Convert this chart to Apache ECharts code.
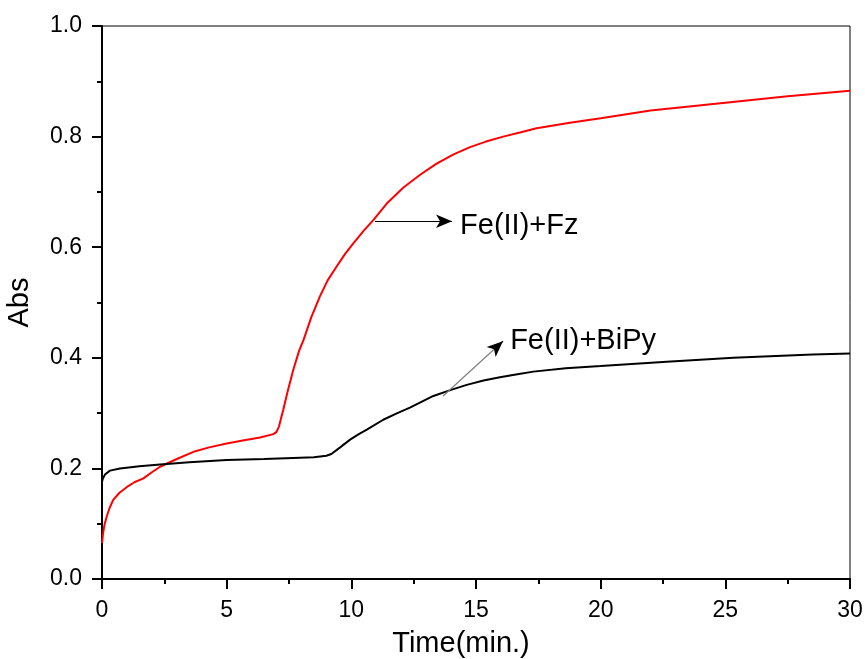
<!DOCTYPE html>
<html>
<head>
<meta charset="utf-8">
<script src="https://cdn.jsdelivr.net/npm/echarts@6/dist/echarts.min.js"></script>
<style>
    html, body { margin: 0; padding: 0; background: #fff; }
    #main { width: 865px; height: 659px; }
</style>
</head>
<body>
<div id="main"></div>
<script>
// Fe(II)+Fz curve (red)
var timeFz = [0, 0.05, 0.1, 0.19, 0.3, 0.45, 0.7, 0.99, 1.3, 1.66, 2.0, 2.33, 3.0, 3.67, 4.3, 5.0, 5.7, 6.34, 6.87, 7.0, 7.1, 7.27, 7.45, 7.67, 7.9, 8.08, 8.4, 8.74, 9.05, 9.41, 9.75, 10.08, 10.5, 10.88, 11.42, 12.09, 12.76, 13.42, 14.1, 14.76, 15.4, 16.09, 16.8, 17.43, 18.77, 20.0, 22.0, 25.0, 27.5, 30.0];
var absFz = [0.065, 0.085, 0.098, 0.113, 0.128, 0.143, 0.156, 0.166, 0.175, 0.182, 0.193, 0.203, 0.217, 0.230, 0.238, 0.245, 0.251, 0.256, 0.262, 0.266, 0.276, 0.306, 0.340, 0.378, 0.412, 0.432, 0.474, 0.511, 0.540, 0.565, 0.588, 0.607, 0.630, 0.649, 0.679, 0.708, 0.731, 0.751, 0.768, 0.781, 0.791, 0.800, 0.808, 0.815, 0.825, 0.833, 0.847, 0.861, 0.873, 0.883];

// Fe(II)+BiPy curve (black)
var timeBp = [0, 0.03, 0.12, 0.32, 0.72, 1.5, 2.33, 3.5, 5.0, 6.5, 7.67, 8.5, 9.0, 9.2, 9.55, 9.95, 10.3, 10.62, 11.28, 11.8, 12.35, 13.29, 14.0, 14.63, 15.3, 15.96, 16.6, 17.3, 18.6, 20.0, 22.65, 25.32, 28.5, 30.0];
var absBp = [0.176, 0.181, 0.189, 0.196, 0.200, 0.204, 0.207, 0.211, 0.215, 0.217, 0.219, 0.220, 0.223, 0.226, 0.238, 0.252, 0.262, 0.270, 0.288, 0.299, 0.310, 0.331, 0.342, 0.351, 0.359, 0.365, 0.370, 0.375, 0.381, 0.385, 0.393, 0.400, 0.406, 0.408];

// annotations: arrow start, arrow end, label anchor (data coords)
var labelNames = ["Fe(II)+Fz", "Fe(II)+BiPy"];
var arrowFz = [[10.95, 0.647], [14.04, 0.647]];
var labelFz = [14.36, 0.638];
var arrowBp = [[13.68, 0.331], [16.08, 0.430]];
var labelBp = [16.37, 0.430];

var yTicks = [0, 0.2, 0.4, 0.6, 0.8, 1.0];
var xTicks = [0, 5, 10, 15, 20, 25, 30];

function zip(xs, ys) {
    var out = [];
    for (var i = 0; i < xs.length; i++) out.push([xs[i], ys[i]]);
    return out;
}

var FONT = "Liberation Sans";

// short black piece at the tip of the grey BiPy arrow, so the head is black
var bpTipStart = [
    arrowBp[1][0] - (arrowBp[1][0] - arrowBp[0][0]) * 0.12,
    arrowBp[1][1] - (arrowBp[1][1] - arrowBp[0][1]) * 0.12
];

var option = {
    animation: false,
    backgroundColor: "#fff",
    grid: {
        left: 102, right: 15, top: 26, bottom: 80,
        outerBoundsMode: "none",
        show: true, borderColor: "#000", borderWidth: 1
    },
    xAxis: {
        type: "value",
        min: xTicks[0], max: xTicks[xTicks.length - 1], interval: 5,
        name: "Time(min.)",
        nameLocation: "middle",
        nameGap: 50,
        nameTextStyle: { fontFamily: FONT, fontSize: 29, color: "#000", padding: [0, 30, 0, 0] },
        axisLine: { show: true, onZero: false, lineStyle: { color: "#000", width: 2 } },
        axisTick: { show: true, inside: false, length: 10, lineStyle: { color: "#000", width: 2 } },
        minorTick: { show: true, splitNumber: 2, length: 5, lineStyle: { color: "#000", width: 2 } },
        axisLabel: { fontFamily: FONT, fontSize: 23, color: "#000", margin: 20 },
        splitLine: { show: false }
    },
    yAxis: {
        type: "value",
        min: yTicks[0], max: yTicks[yTicks.length - 1], interval: 0.2,
        name: "Abs",
        nameLocation: "middle",
        nameGap: 68,
        nameTextStyle: { fontFamily: FONT, fontSize: 29, color: "#000" },
        axisLine: { show: true, onZero: false, lineStyle: { color: "#000", width: 2 } },
        axisTick: { show: true, inside: false, length: 10, lineStyle: { color: "#000", width: 2 } },
        minorTick: { show: true, splitNumber: 2, length: 5, lineStyle: { color: "#000", width: 2 } },
        axisLabel: {
            fontFamily: FONT, fontSize: 23, color: "#000", margin: 20,
            formatter: function (v) { return v.toFixed(1); }
        },
        splitLine: { show: false }
    },
    series: [
        {
            name: labelNames[0],
            type: "line",
            data: zip(timeFz, absFz),
            showSymbol: false,
            lineStyle: { color: "#ff0000", width: 2 },
            markLine: {
                silent: true,
                symbol: ["none", "arrow"],
                symbolSize: [10, 16],
                label: { show: false },
                lineStyle: { color: "#000", width: 1.2, type: "solid" },
                data: [[{ coord: arrowFz[0] }, { coord: arrowFz[1] }]]
            },
            markPoint: {
                silent: true,
                symbol: "circle",
                symbolSize: 0,
                label: {
                    show: true, position: "right", distance: 0,
                    fontFamily: FONT, fontSize: 29, color: "#000",
                    formatter: labelNames[0]
                },
                data: [{ coord: labelFz }]
            }
        },
        {
            name: labelNames[1],
            type: "line",
            data: zip(timeBp, absBp),
            showSymbol: false,
            lineStyle: { color: "#000", width: 2 },
            markLine: {
                silent: true,
                symbol: ["none", "none"],
                label: { show: false },
                lineStyle: { color: "#808080", width: 1.2, type: "solid" },
                data: [[{ coord: arrowBp[0] }, { coord: bpTipStart }]]
            },
            markPoint: {
                silent: true,
                symbol: "circle",
                symbolSize: 0,
                label: {
                    show: true, position: "right", distance: 0,
                    fontFamily: FONT, fontSize: 29, color: "#000",
                    formatter: labelNames[1]
                },
                data: [{ coord: labelBp }]
            }
        },
        {
            // black arrow head for the BiPy pointer
            type: "line",
            data: [],
            markLine: {
                silent: true,
                symbol: ["none", "arrow"],
                symbolSize: [10, 16],
                label: { show: false },
                lineStyle: { color: "#000", width: 1.2, type: "solid" },
                data: [[{ coord: bpTipStart }, { coord: arrowBp[1] }]]
            }
        }
    ]
};

var myChart = echarts.init(document.getElementById("main"));
myChart.setOption(option);
</script>
</body>
</html>
